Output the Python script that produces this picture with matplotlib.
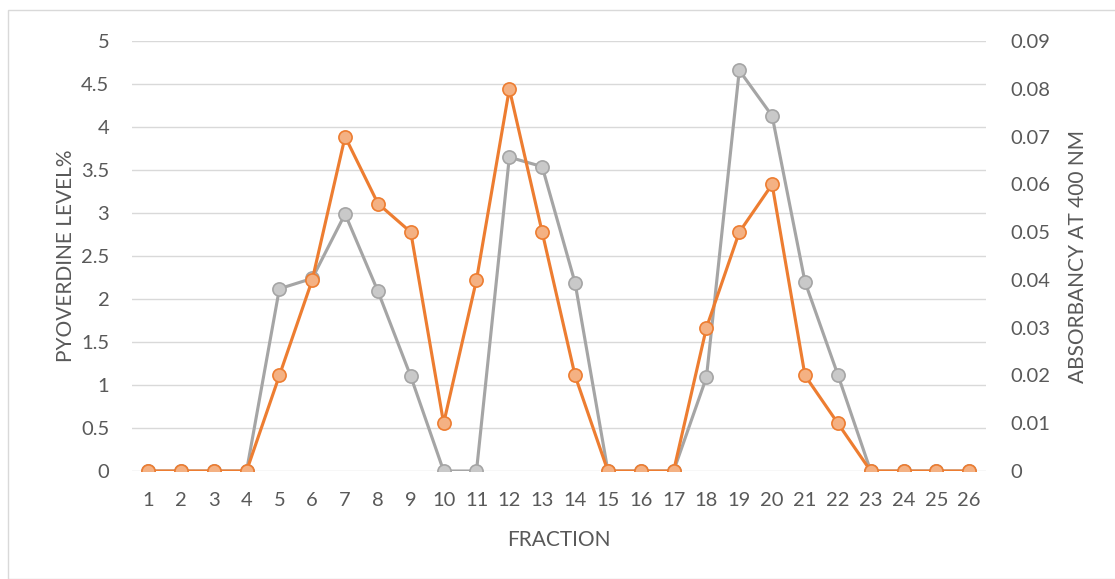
import numpy as np
import matplotlib.pyplot as plt
from matplotlib.patches import Rectangle

### Data
fraction = list(range(1, 27))
pyoverdine = [0, 0, 0, 0, 2.12, 2.24, 2.99, 2.09, 1.1, 0, 0, 3.65, 3.54, 2.19,
              0, 0, 0, 1.09, 4.66, 4.13, 2.2, 1.12, 0, 0, 0, 0]
absorbancy = [0, 0, 0, 0, 0.02, 0.04, 0.07, 0.056, 0.05, 0.01, 0.04, 0.08, 0.05, 0.02,
              0, 0, 0, 0.03, 0.05, 0.06, 0.02, 0.01, 0, 0, 0, 0]

left_ticks = [0, 0.5, 1, 1.5, 2, 2.5, 3, 3.5, 4, 4.5, 5]
left_labels = ["0", "0.5", "1", "1.5", "2", "2.5", "3", "3.5", "4", "4.5", "5"]
right_ticks = [0, 0.01, 0.02, 0.03, 0.04, 0.05, 0.06, 0.07, 0.08, 0.09]
right_labels = ["0", "0.01", "0.02", "0.03", "0.04", "0.05", "0.06", "0.07", "0.08", "0.09"]

plt.rcParams['font.family'] = ['Lato', 'DejaVu Sans']
txt = "#595959"

fig = plt.figure(figsize=(11.15, 5.79), dpi=100)
# outer frame (only top and left edges show)
fig.patches.append(Rectangle((8 / 1115, 0.0), 1.2, 1 - 10 / 579, transform=fig.transFigure,
                             fill=False, edgecolor="#d9d9d9", lw=1))

ax = fig.add_axes([0.118, 0.1865, 0.766, 0.7425])
ax2 = ax.twinx()

ax.plot(fraction, pyoverdine, color="#A5A5A5", lw=2.25, marker="o", ms=9.5,
        mfc="#C9C9C9", mec="#A5A5A5", mew=1.2, zorder=3)
ax2.plot(fraction, absorbancy, color="#ED7D31", lw=2.25, marker="o", ms=9.5,
         mfc="#F4B183", mec="#ED7D31", mew=1.2, zorder=3)

ax.set_xlim(0.5, 26.5)
ax.set_ylim(0, 5)
ax2.set_ylim(0, 0.09)
ax.set_xticks(fraction)
ax.set_xticklabels([str(f) for f in fraction])
ax.set_yticks(left_ticks)
ax.set_yticklabels(left_labels)
ax2.set_yticks(right_ticks)
ax2.set_yticklabels(right_labels)

ax.grid(axis="y", color="#d9d9d9", lw=1)
ax.set_axisbelow(True)
for a in (ax, ax2):
    for s in a.spines.values():
        s.set_visible(False)
    a.tick_params(length=0, colors=txt, labelsize=14.5)
ax.tick_params(axis="y", pad=16)
ax2.tick_params(axis="y", pad=18)
ax.tick_params(axis="x", pad=15)

ax.set_xlabel("FRACTION", color=txt, fontsize=15)
ax.set_ylabel("PYOVERDINE LEVEL%", color=txt, fontsize=15)
ax2.set_ylabel("ABSORBANCY AT 400 NM", color=txt, fontsize=15)
ax.xaxis.set_label_coords(0.5, -0.137)
ax.yaxis.set_label_coords(-0.065, 0.5)
ax2.yaxis.set_label_coords(1.0965, 0.5)

fig.savefig("out.png", dpi=100)
